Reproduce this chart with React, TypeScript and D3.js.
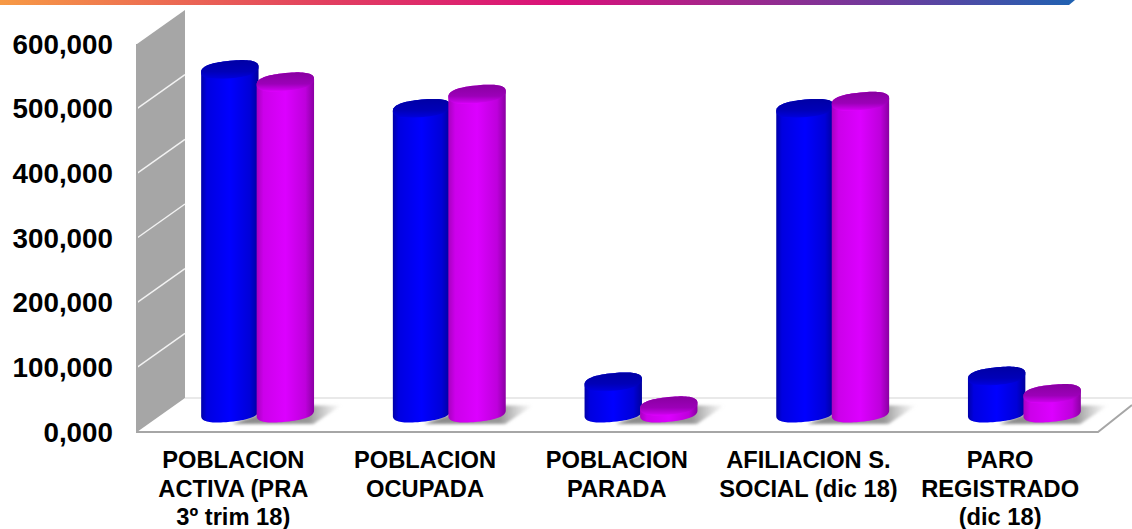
import React from "react";
import * as d3 from "d3";

const categories = [
  ["POBLACION", "ACTIVA (PRA", "3º trim 18)"],
  ["POBLACION", "OCUPADA"],
  ["POBLACION", "PARADA"],
  ["AFILIACION S.", "SOCIAL (dic 18)"],
  ["PARO", "REGISTRADO", "(dic 18)"],
];
const seriesBlue = [531000, 471000, 48000, 471000, 57000];
const seriesPurple = [512000, 493000, 11000, 482000, 30000];
const ticks = [0, 100000, 200000, 300000, 400000, 500000, 600000];
const tickLabels = ["0,000", "100,000", "200,000", "300,000", "400,000", "500,000", "600,000"];

const W = 1132, H = 529;
const frontX = 137, backX = 185, depthY = 34;
const y = d3.scaleLinear().domain([0, 600000]).range([432, 44]);
const x = d3.scaleBand<number>().domain(categories.map((_, i) => i)).range([161.5, 1120]);
const rx = 28.7, ry = 8.8, tilt = -5.5, exponent = 2.5;
const baseY = 413;

// superellipse outline, tilted; returns points for parameter range
function rim(cx: number, cy: number, from: number, to: number, n = 40) {
  const a = (tilt * Math.PI) / 180;
  return d3.range(n + 1).map((i) => {
    const t = from + ((to - from) * i) / n;
    const c = Math.cos(t), s = Math.sin(t);
    const px = rx * Math.sign(c) * Math.pow(Math.abs(c), 2 / exponent);
    const py = ry * Math.sign(s) * Math.pow(Math.abs(s), 2 / exponent);
    return [cx + px, cy + py + px * Math.tan(a)] as [number, number];
  });
}
const line = d3.line();

function Cyl({ cx, v, body, top }: { cx: number; v: number; body: string; top: string }) {
  const ty = baseY - (y(0) - y(v));
  const lower = rim(cx, baseY, 0, Math.PI);
  const upper = rim(cx, ty, Math.PI, 2 * Math.PI);
  return (
    <g>
      <path d={line([...lower, ...upper]) + "Z"} fill={`url(#${body})`} />
      <path d={line(rim(cx, ty, 0, 2 * Math.PI, 80)) + "Z"} fill={`url(#${top})`} />
    </g>
  );
}

export default function App() {
  return (
    <svg width={W} height={H} viewBox={`0 0 ${W} ${H}`} style={{ position: "absolute", left: 0, top: 0, background: "#fff" }} fontFamily="'Liberation Sans', Arial, sans-serif">
      <defs>
        <linearGradient id="band" x1="0" x2="1" y1="0" y2="0">
          <stop offset="0" stopColor="#f79a45" />
          <stop offset="0.3" stopColor="#e2405f" />
          <stop offset="0.52" stopColor="#d9107a" />
          <stop offset="0.82" stopColor="#6f3a9c" />
          <stop offset="1" stopColor="#1f62b2" />
        </linearGradient>
        <linearGradient id="bBody" x1="0" x2="1" y1="0" y2="0">
          <stop offset="0" stopColor="#0000a8" />
          <stop offset="0.1" stopColor="#0000e0" />
          <stop offset="0.5" stopColor="#0000ff" />
          <stop offset="0.85" stopColor="#0000d8" />
          <stop offset="1" stopColor="#00009c" />
        </linearGradient>
        <linearGradient id="pBody" x1="0" x2="1" y1="0" y2="0">
          <stop offset="0" stopColor="#a800c0" />
          <stop offset="0.12" stopColor="#cc00ea" />
          <stop offset="0.5" stopColor="#dc00ff" />
          <stop offset="0.85" stopColor="#be00dc" />
          <stop offset="1" stopColor="#8a00a2" />
        </linearGradient>
        <linearGradient id="bTop" x1="0" x2="0" y1="0" y2="1">
          <stop offset="0" stopColor="#0000a4" />
          <stop offset="0.6" stopColor="#0000b8" />
          <stop offset="0.92" stopColor="#0000d8" />
          <stop offset="1" stopColor="#0000f0" />
        </linearGradient>
        <linearGradient id="pTop" x1="0" x2="0" y1="0" y2="1">
          <stop offset="0" stopColor="#8800a0" />
          <stop offset="0.6" stopColor="#9c00b8" />
          <stop offset="0.92" stopColor="#c800e8" />
          <stop offset="1" stopColor="#e000ff" />
        </linearGradient>
        <linearGradient id="shade" x1="0" x2="1" y1="0" y2="0">
          <stop offset="0" stopColor="#888888" />
          <stop offset="0.7" stopColor="#989898" />
          <stop offset="1" stopColor="#b0b0b0" stopOpacity="0" />
        </linearGradient>
        <filter id="soft" x="-10%" y="-30%" width="120%" height="160%">
          <feGaussianBlur stdDeviation="1.6" />
        </filter>
      </defs>

      <path d="M0,0 H1075 L1069,5 H0 Z" fill="url(#band)" />

      <path d={`M${frontX},${y(600000)} L${backX},${y(600000) - depthY} V${y(0) - depthY} L${frontX},${y(0)} Z`} fill="#a6a6a6" />
      {ticks.slice(1, -1).map((t) => (
        <line key={t} x1={frontX} x2={backX} y1={y(t)} y2={y(t) - depthY} stroke="#f2f2f2" strokeWidth={1.5} />
      ))}
      <line x1={backX} x2={1132} y1={y(0) - depthY} y2={y(0) - depthY} stroke="#e2e2e2" strokeWidth={1.5} />
      <path d={`M${frontX},${y(600000)} V${y(0)} H1098 L1132,${y(0) - 27}`} fill="none" stroke="#a6a6a6" strokeWidth={2} />

      {ticks.map((t, i) => (
        <text key={t} x={113} y={y(t)} textAnchor="end" dominantBaseline="central" fontSize={27.8} fontWeight="bold" fill="#000">
          {tickLabels[i]}
        </text>
      ))}

      {categories.map((c, i) => {
        const mid = (x(i) as number) + x.bandwidth() / 2;
        return (
          <g key={i}>
            <path d={`M${mid - 25},424 L${mid + 56},424 L${mid + 84},405.5 L${mid + 25},405.5 Z`} fill="url(#shade)" filter="url(#soft)" />
            <Cyl cx={mid - 27.5} v={seriesBlue[i]} body="bBody" top="bTop" />
            <Cyl cx={mid + 28} v={seriesPurple[i]} body="pBody" top="pTop" />
            <text textAnchor="middle" fontSize={23.7} fontWeight="bold" fill="#000">
              {c.map((ln, j) => (
                <tspan key={j} x={mid - 24} y={468 + j * 28.5}>{ln}</tspan>
              ))}
            </text>
          </g>
        );
      })}
    </svg>
  );
}
